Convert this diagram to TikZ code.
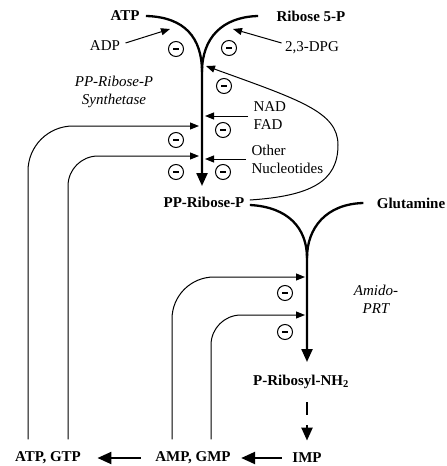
\documentclass[tikz,border=0pt]{standalone}
\usepackage{fontspec}
\setmainfont{Liberation Serif}
\usetikzlibrary{arrows.meta}
\newcommand{\pfont}{\fontsize{15}{18}\selectfont}
\tikzset{>=latex}
\tikzset{
  met/.style={font=\pfont\bfseries},
  eff/.style={font=\pfont},
  enz/.style={font=\pfont\itshape, align=center},
  inh/.style={circle, draw, line width=1pt, minimum size=15pt, inner sep=0pt},
  main/.style={line width=2.3pt},
  mainarrow/.style={main, -{Triangle[length=13pt,width=11pt]}},
  thinarrow/.style={line width=1pt, -{Triangle[length=9pt,width=7pt]}},
}
\begin{document}
\begin{tikzpicture}[x=1pt, y=-1pt]
\useasboundingbox (0,0) rectangle (447,466);
% metabolites
\node[met] (atp) at (125,16) {ATP};
\node[met] (rib) at (311,16) {Ribose 5-P};
\node[met] (prpp) at (204,202) {PP-Ribose-P};
\node[met] (gln) at (411,203) {Glutamine};
\node[met] (prna) at (301,382) {P-Ribosyl-NH\textsubscript{2}};
\node[met] (imp) at (307,458) {IMP};
\node[met] (amp) at (193,458) {AMP, GMP};
\node[met] (atpgtp) at (48,458) {ATP, GTP};
% effectors and enzymes
\node[eff] (adp) at (105,46) {ADP};
\node[eff] (dpg) at (312,48) {2,3-DPG};
\node[eff, anchor=west, align=left] (nad) at (250,116) {NAD\\FAD};
\node[eff, anchor=west, align=left] (oth) at (248,159) {Other\\Nucleotides};
\node[enz] (prs) at (114,92) {PP-Ribose-P\\Synthetase};
\node[enz] (aprt) at (376,299) {Amido-\\PRT};
% junctions and ends
\coordinate (j1) at (202,72);
\coordinate (t1) at (202,186);
\coordinate (j2) at (307,258);
\coordinate (t2) at (307,362);
% inhibition marks
\foreach \name/\pos in {m1/{(176,49)}, m2/{(229,48)}, m3/{(224,86)}, m4/{(223,130)},
    m5/{(176,140)}, m6/{(176,172)}, m7/{(223,172)}, m8/{(285,293)}, m9/{(285,332)}}
  \node[inh] (\name) at \pos {\rule{6pt}{2.5pt}};
% PP-Ribose-P synthetase
\draw[mainarrow] ([xshift=3pt]atp.east) .. controls (185,17) and (202,38) .. (j1) -- (t1);
\draw[main] ([xshift=-15pt]rib.west) .. controls (222,17) and (202,38) .. (j1);
% amido-PRT
\draw[mainarrow] ([xshift=2pt,yshift=-3pt]prpp.east) .. controls (288,207) and (307,228) .. (j2) -- (t2);
\draw[main] ([xshift=-10pt]gln.west) .. controls (326,204) and (307,228) .. (j2);
% feedback
\draw[thinarrow] ([xshift=2pt,yshift=2pt]prpp.east) .. controls (310,196) and (338,182) .. (338,145)
  .. controls (338,112) and (300,100) .. (206,66);
\draw[thinarrow] ([xshift=2pt,yshift=3pt]adp.east) -- (170,29);
\draw[thinarrow] ([yshift=5pt]dpg.west) -- (233,29);
\draw[thinarrow] ([xshift=-2pt]nad.west) -- (205,116);
\draw[thinarrow] ([xshift=-2pt]oth.west) -- (205,159);
\draw[thinarrow, rounded corners=45pt] ([shift={(-20pt,9pt)}]atpgtp.north) |- (199,126);
\draw[thinarrow, rounded corners=30pt] ([shift={(20pt,9pt)}]atpgtp.north) |- (199,156);
\draw[thinarrow, rounded corners=42pt] ([shift={(-21pt,9pt)}]amp.north) |- (305,277);
\draw[thinarrow, rounded corners=30pt] ([shift={(18pt,9pt)}]amp.north) |- (305,315);
% purine pathway
\draw[mainarrow, dash pattern=on 13pt off 10pt, shorten <=10pt, shorten >=9pt]
  ([xshift=6pt]prna.south) -- (imp.north);
\path[main, -{Triangle[length=14pt,width=12pt]}]
  (imp) edge[shorten <=7pt, shorten >=7pt] (amp)
  (amp) edge[shorten <=11pt, shorten >=13pt] (atpgtp);
\end{tikzpicture}
\end{document}
